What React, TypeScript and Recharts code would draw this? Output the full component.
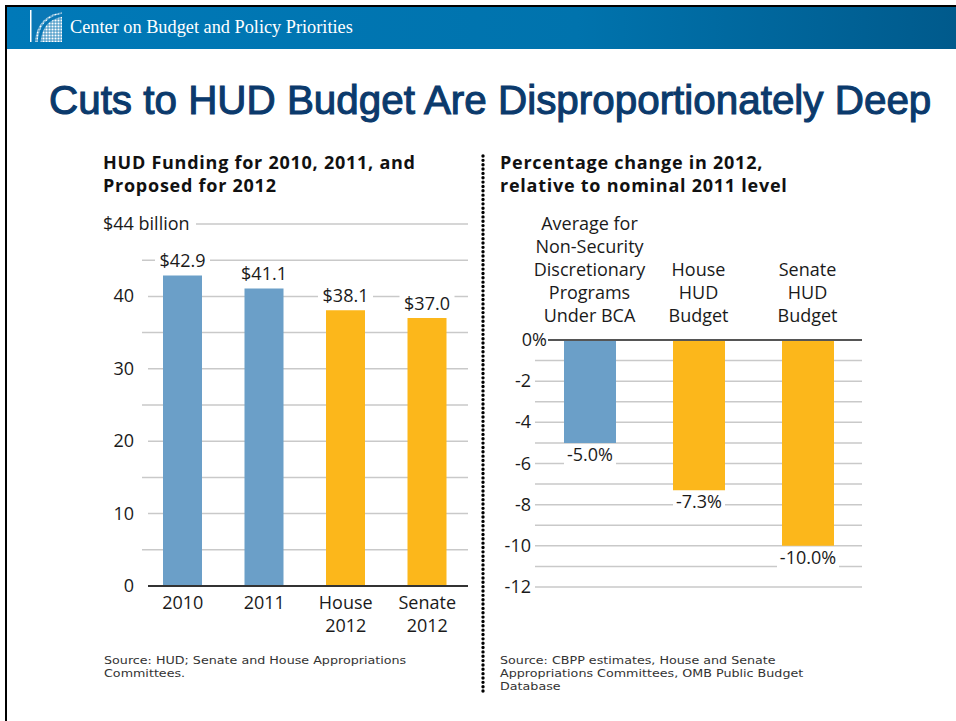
import React from 'react';
import { BarChart, Bar, XAxis, YAxis, CartesianGrid, Cell, LabelList } from 'recharts';

// ---------- data ----------
const fundingCategories = ['2010', '2011', 'House\n2012', 'Senate\n2012'];
const fundingValues = [42.9, 41.1, 38.1, 37.0];
const fundingValueLabels = ['$42.9', '$41.1', '$38.1', '$37.0'];
const fundingKinds = ['enacted', 'enacted', 'proposed', 'proposed'];
const fundingTicks = [0, 5, 10, 15, 20, 25, 30, 35, 40, 45, 50];
const fundingTickLabels = ['0', '', '10', '', '20', '', '30', '', '40', '', '$44 billion'];

const changeCategories = [
  'Average for\nNon-Security\nDiscretionary\nPrograms\nUnder BCA',
  'House\nHUD\nBudget',
  'Senate\nHUD\nBudget',
];
const changeValues = [-5.0, -7.3, -10.0];
const changeValueLabels = ['-5.0%', '-7.3%', '-10.0%'];
const changeKinds = ['enacted', 'proposed', 'proposed'];
const changeTicks = [0, -1, -2, -3, -4, -5, -6, -7, -8, -9, -10, -11, -12];
const changeTickLabels = ['0%', '', '-2', '', '-4', '', '-6', '', '-8', '', '-10', '', '-12'];

const leftTitleLines = ['HUD Funding for 2010, 2011, and', 'Proposed for 2012'];
const rightTitleLines = ['Percentage change in 2012,', 'relative to nominal 2011 level'];
const leftSourceLines = ['Source: HUD; Senate and House Appropriations', 'Committees.'];
const rightSourceLines = ['Source: CBPP estimates, House and Senate', 'Appropriations Committees, OMB Public Budget', 'Database'];

// ---------- styles ----------
const BLUE = '#6b9fc8';
const ORANGE = '#fcb71b';
const GRID = '#c9c9c9';
const FONT = "'Open Sans', 'Noto Sans', sans-serif";
const TEXT = '#1a1a1a';
const FS = 18;
const kindColor = (k: string) => (k === 'enacted' ? BLUE : ORANGE);

const fundingData = fundingCategories.map((c, i) => ({ name: c, value: fundingValues[i], label: fundingValueLabels[i], kind: fundingKinds[i] }));
const changeData = changeCategories.map((c, i) => ({ name: c, value: changeValues[i], label: changeValueLabels[i], kind: changeKinds[i] }));

const LeftYTick = (props: any) => {
  const { y, payload } = props;
  const idx = fundingTicks.indexOf(payload.value);
  const label = fundingTickLabels[idx];
  if (!label) return null;
  if (idx === fundingTicks.length - 1) {
    return (
      <g>
        <rect x={96} y={y - 12} width={100} height={24} fill="#fff" />
        <text x={103} y={y} dy={6} textAnchor="start" fontFamily={FONT} fontSize={FS} fill={TEXT}>{label}</text>
      </g>
    );
  }
  return (
    <g>
      <rect x={100} y={y - 12} width={48} height={24} fill="#fff" />
      <text x={134} y={y} dy={6} textAnchor="end" fontFamily={FONT} fontSize={FS} fill={TEXT}>{label}</text>
    </g>
  );
};

const LeftXTick = (props: any) => {
  const { x, payload } = props;
  const lines = String(payload.value).split('\n');
  return (
    <g>
      {lines.map((l, i) => (
        <text key={i} x={x} y={609 + i * 23} textAnchor="middle" fontFamily={FONT} fontSize={FS} fill={TEXT}>{l}</text>
      ))}
    </g>
  );
};

const RightYTick = (props: any) => {
  const { y, payload } = props;
  const idx = changeTicks.indexOf(payload.value);
  const label = changeTickLabels[idx];
  if (!label) return null;
  if (payload.value === 0) {
    return (
      <g>
        <rect x={57} y={y - 3} width={18} height={6} fill="#fff" />
        <line x1={74} y1={y} x2={388} y2={y} stroke="#555" strokeWidth={1.8} />
        <text x={73} y={y} dy={6} textAnchor="end" fontFamily={FONT} fontSize={FS} fill={TEXT}>{label}</text>
      </g>
    );
  }
  return (
    <text x={57} y={y} dy={6} textAnchor="end" fontFamily={FONT} fontSize={FS} fill={TEXT}>{label}</text>
  );
};

const RightXTick = (props: any) => {
  const { x, payload } = props;
  const lines = String(payload.value).split('\n');
  const n = lines.length;
  return (
    <g>
      {lines.map((l, i) => (
        <text key={i} x={x} y={322 - (n - 1 - i) * 23} textAnchor="middle" fontFamily={FONT} fontSize={FS} fill={TEXT}>{l}</text>
      ))}
    </g>
  );
};

const TopValueLabel = (props: any) => {
  const { x, y, width, value } = props;
  const cx = x + width / 2;
  const w = String(value).length * 10.2 + 4;
  return (
    <g>
      <rect x={cx - w / 2} y={y - 25} width={w} height={22} fill="#fff" />
      <text x={cx} y={y - 14} dy={6} textAnchor="middle" fontFamily={FONT} fontSize={FS} fill={TEXT}>{value}</text>
    </g>
  );
};

const BottomValueLabel = (props: any) => {
  const { x, y, width, height, value } = props;
  const cx = x + width / 2;
  const bottom = Math.max(y, y + height);
  const w = String(value).length * 10 + 2;
  return (
    <g>
      <rect x={cx - w / 2} y={bottom + 2} width={w} height={22} fill="#fff" />
      <text x={cx} y={bottom + 12} dy={6} textAnchor="middle" fontFamily={FONT} fontSize={FS} fill={TEXT}>{value}</text>
    </g>
  );
};

const Logo = () => {
  const lines = [];
  for (let i = 0; i <= 32; i += 3) {
    lines.push(<line key={'v' + i} x1={i} y1={0} x2={i} y2={32} stroke="#1b7fb8" strokeWidth={0.8} />);
    lines.push(<line key={'h' + i} x1={0} y1={i} x2={32} y2={i} stroke="#1b7fb8" strokeWidth={0.8} />);
  }
  return (
    <svg width={34} height={34} style={{ position: 'absolute', left: 30, top: 10 }}>
      <defs>
        <clipPath id="lg">
          <path d="M0 0 H32 V32 H0 Z" />
        </clipPath>
      </defs>
      <g clipPath="url(#lg)">
        <rect x={0} y={0} width={32} height={32} fill="#fff" />
        {lines}
        <path d="M5 33 C6 14 16 4 33 2 L33 -2 L-1 -2 L-1 33 Z" fill="#0a78b6" />
        <path d="M9 33 C10 16 19 7 33 5" fill="none" stroke="#0a78b6" strokeWidth={3} />
        <path d="M0 0 V32" stroke="#fff" strokeWidth={3} />
      </g>
    </svg>
  );
};

const TextBlock = ({ lines, x, y, step, size, weight, family, color, spacing, sx }: any) => (
  <g>
    {lines.map((l: string, i: number) => (
      <text
        key={i}
        x={0}
        y={0}
        transform={`translate(${x},${y + i * step}) scale(${sx || 1},1)`}
        fontFamily={family}
        fontSize={size}
        fontWeight={weight}
        fill={color}
        letterSpacing={spacing || 0}
      >
        {l}
      </text>
    ))}
  </g>
);

export default function App() {
  return (
    <div style={{ position: 'absolute', left: 0, top: 0, width: 956, height: 721, background: '#fff', overflow: 'hidden' }}>
      {/* slide frame */}
      <div style={{ position: 'absolute', left: 5, top: 5, width: 2, height: 716, background: '#000' }} />
      <div style={{ position: 'absolute', left: 5, top: 5, width: 951, height: 2, background: '#000' }} />
      {/* header band */}
      <div style={{ position: 'absolute', left: 7, top: 7, width: 949, height: 42, background: 'linear-gradient(to right, #0079b8 0%, #0073ad 60%, #005a8c 100%)' }} />
      <Logo />
      <div style={{ position: 'absolute', left: 70, top: 17, fontFamily: "'Liberation Serif', serif", fontSize: 18.3, color: '#fff', whiteSpace: 'nowrap', lineHeight: '20px' }}>
        Center on Budget and Policy Priorities
      </div>
      {/* title */}
      <div style={{ position: 'absolute', left: 49, top: 75, fontFamily: "'Liberation Sans', Arial, sans-serif", fontSize: 40.4, fontWeight: 'normal', color: '#0b3a6c', whiteSpace: 'nowrap', lineHeight: '50px', WebkitTextStroke: '1.1px #0b3a6c' }}>
        Cuts to HUD Budget Are Disproportionately Deep
      </div>

      {/* left chart */}
      <div style={{ position: 'absolute', left: 0, top: 0 }}>
        <BarChart width={490} height={650} data={fundingData} margin={{ top: 224, right: 22, bottom: 0, left: 0 }}>
          <CartesianGrid vertical={false} stroke={GRID} strokeWidth={1.5} />
          <XAxis dataKey="name" height={64} tickLine={false} axisLine={{ stroke: '#333', strokeWidth: 1.8 }} tick={<LeftXTick />} interval={0} />
          <YAxis width={142} domain={[0, 50]} ticks={fundingTicks} axisLine={false} tickLine={false} tick={<LeftYTick />} interval={0} />
          <Bar dataKey="value" barSize={39} isAnimationActive={false}>
            {fundingData.map((d, i) => (
              <Cell key={i} fill={kindColor(d.kind)} />
            ))}
            <LabelList dataKey="label" content={<TopValueLabel />} />
          </Bar>
        </BarChart>
      </div>

      {/* right chart */}
      <div style={{ position: 'absolute', left: 474, top: 0 }}>
        <BarChart width={410} height={650} data={changeData} margin={{ top: 210, right: 22, bottom: 63, left: 0 }}>
          <CartesianGrid vertical={false} stroke={GRID} strokeWidth={1.5} />
          <XAxis dataKey="name" orientation="top" height={130} tickLine={false} axisLine={false} tick={<RightXTick />} interval={0} />
          <YAxis width={61} domain={[-12, 0]} ticks={changeTicks} axisLine={false} tickLine={false} tick={<RightYTick />} interval={0} />
          <Bar dataKey="value" barSize={52} isAnimationActive={false}>
            {changeData.map((d, i) => (
              <Cell key={i} fill={kindColor(d.kind)} />
            ))}
            <LabelList dataKey="label" content={<BottomValueLabel />} />
          </Bar>
        </BarChart>
      </div>

      {/* titles, sources, separator */}
      <svg width={956} height={721} style={{ position: 'absolute', left: 0, top: 0, pointerEvents: 'none' }}>
        <TextBlock lines={leftTitleLines} x={103} y={169} step={23} size={18} weight={700} family={FONT} color="#111" spacing={0.75} />
        <TextBlock lines={rightTitleLines} x={500} y={169} step={23} size={18} weight={700} family={FONT} color="#111" spacing={0.75} />
        <TextBlock lines={leftSourceLines} x={104} y={664} step={13} size={10.6} weight={400} family="'DejaVu Sans', sans-serif" color="#333" sx={1.2} />
        <TextBlock lines={rightSourceLines} x={500} y={664} step={13} size={10.6} weight={400} family="'DejaVu Sans', sans-serif" color="#333" sx={1.2} />
        <line x1={483} y1={156} x2={483} y2={692} stroke="#000" strokeWidth={3.4} strokeLinecap="round" strokeDasharray="0 4.35" />
      </svg>
    </div>
  );
}
